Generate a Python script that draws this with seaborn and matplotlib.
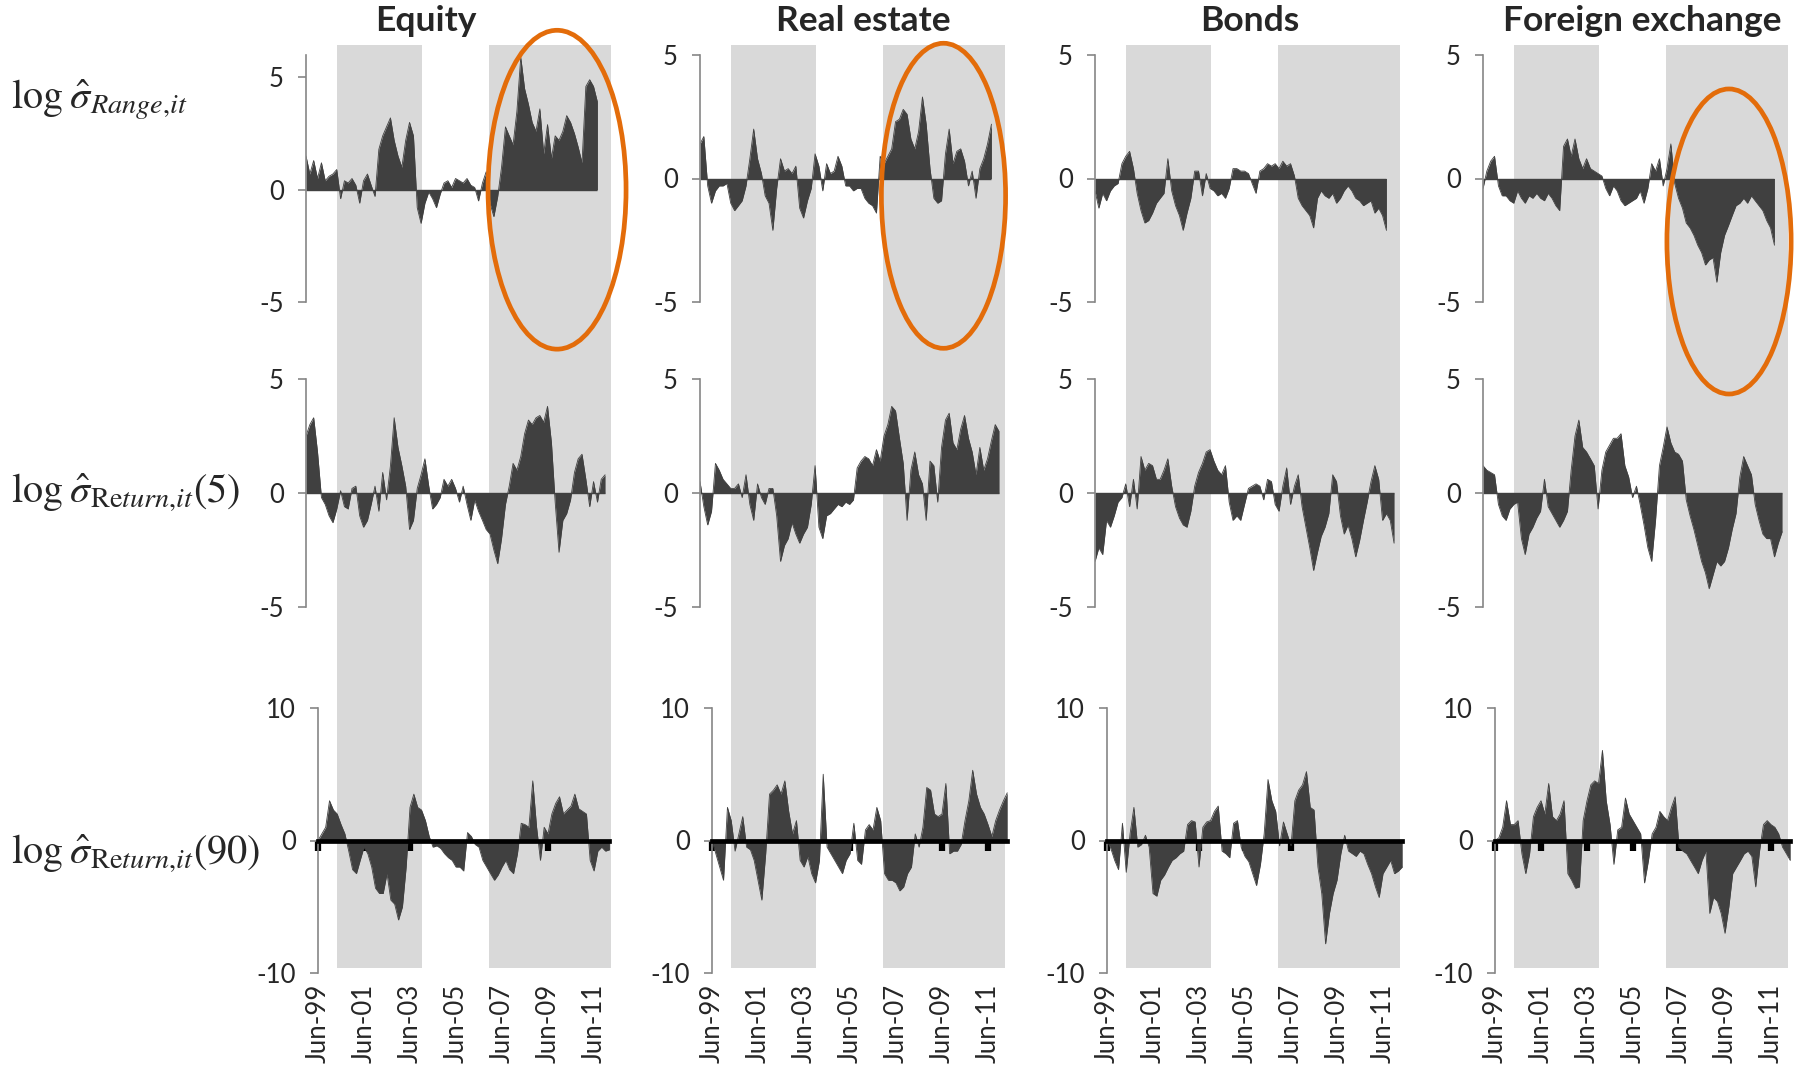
import numpy as np
import pandas as pd
import seaborn as sns
import matplotlib.pyplot as plt
from matplotlib.patches import Ellipse

# column titles and row labels
assets = ['Equity', 'Real estate', 'Bonds', 'Foreign exchange']
row_labels = [r'$\log\hspace{0.08}\hat{\sigma}_{Range{,}it}$',
              r'$\log\hspace{0.08}\hat{\sigma}_{\mathrm{Re}turn{,}it}(5)$',
              r'$\log\hspace{0.08}\hat{\sigma}_{\mathrm{Re}turn{,}it}(90)$']
tick_labels = ['Jun-99', 'Jun-01', 'Jun-03', 'Jun-05', 'Jun-07', 'Jun-09', 'Jun-11']
# shaded regimes
regimes = [('2000-04-01', '2003-12-01'), ('2006-11-01', '2012-03-01')]

equity_range = [1.5, 0.7, 1.3, 0.5, 1.2, 0.4, 0.6, 0.7, 0.9, -0.4,
                0.4, 0.3, 0.5, 0.2, -0.6, 0.4, 0.7, 0.2, -0.3, 1.8,
                2.4, 2.8, 3.2, 2.2, 1.5, 1.0, 2.2, 3.0, 2.4, -0.8,
                -1.5, -0.6, -0.1, -0.4, -0.8, -0.2, 0.3, 0.4, 0.1, 0.5,
                0.4, 0.3, 0.5, 0.2, 0.1, -0.5, 0.3, 0.8, -0.6, -1.2,
                -0.3, 1.0, 2.8, 2.4, 2.0, 3.5, 5.9, 4.5, 3.8, 3.0,
                2.6, 3.6, 1.6, 2.9, 1.4, 2.4, 2.2, 2.6, 3.3, 3.0,
                2.5, 1.9, 1.2, 4.6, 4.9, 4.6, 3.9]
estate_range = [1.4, 1.7, -0.3, -1.0, -0.5, -0.3, -0.3, -0.2, -1.0, -1.3,
                -1.1, -0.9, -0.3, 0.8, 2.0, 0.8, 0.2, -0.7, -1.0, -2.1,
                -0.4, 0.8, 0.3, 0.4, 0.2, 0.5, -1.2, -1.6, -0.9, -0.4,
                1.0, 0.5, -0.5, 0.6, 0.2, 0.3, 0.9, 0.5, -0.3, -0.3,
                -0.5, -0.4, -0.4, -0.8, -1.0, -1.1, -1.4, 0.9, 0.6, 0.9,
                1.2, 2.3, 2.4, 2.8, 2.6, 1.6, 1.2, 1.9, 3.3, 2.2,
                0.4, -0.8, -1.0, -0.9, 1.0, 2.0, 0.6, 1.1, 1.2, 0.7,
                -0.3, 0.3, -0.8, 0.4, 0.8, 1.4, 2.2]
bonds_range = [-0.5, -1.2, -0.6, -0.9, -0.5, -0.3, -0.2, 0.6, 0.9, 1.1,
               0.4, -0.6, -1.3, -1.8, -1.7, -1.4, -1.0, -0.8, -0.6, 0.8,
               -0.5, -1.1, -1.5, -2.1, -1.4, -0.8, 0.3, 0.3, -0.7, 0.2,
               -0.4, -0.5, -0.7, -0.6, -0.8, -0.4, 0.4, 0.4, 0.3, 0.3,
               0.2, -0.2, -0.6, 0.3, 0.4, 0.6, 0.5, 0.6, 0.4, 0.7,
               0.5, 0.6, 0.1, -0.8, -1.1, -1.3, -1.5, -2.0, -0.8, -0.5,
               -0.7, -0.8, -0.6, -1.0, -0.8, -0.5, -0.3, -0.5, -0.8, -0.9,
               -1.1, -1.0, -0.9, -1.4, -1.2, -1.5, -2.1]
fx_range = [-0.4, 0.3, 0.7, 0.9, -0.3, -0.7, -0.7, -0.9, -1.0, -0.5,
            -0.8, -1.0, -0.7, -0.8, -0.6, -0.8, -0.9, -0.6, -0.8, -1.1,
            -1.3, 1.3, 1.6, 0.9, 1.6, 0.8, 0.4, 0.8, 0.4, 0.3,
            0.2, 0.1, -0.4, -0.7, -0.3, -0.5, -0.9, -1.1, -1.0, -0.9,
            -0.8, -0.5, -1.0, -0.4, 0.6, 0.3, 0.8, -0.3, 0.4, 1.4,
            -0.2, -0.8, -1.2, -1.8, -2.0, -2.3, -2.7, -3.0, -3.5, -3.3,
            -3.2, -4.2, -3.0, -2.3, -1.9, -1.5, -1.1, -1.0, -0.8, -1.0,
            -0.7, -0.9, -1.1, -1.3, -1.7, -2.0, -2.7]

equity_ret5 = [2.5, 3.0, 3.3, 1.8, -0.2, -0.5, -1.0, -1.3, -0.7, 0.1,
               -0.6, -0.7, 0.2, 0.3, -1.0, -1.5, -1.2, -0.5, 0.3, -0.8,
               0.9, -0.3, 1.2, 3.3, 2.0, 1.2, 0.3, -1.6, -1.2, 0.2,
               0.8, 1.5, 0.3, -0.7, -0.5, -0.2, 0.6, 0.3, 0.6, 0.2,
               -0.4, 0.3, -0.5, -1.2, -0.3, -0.8, -1.2, -1.6, -1.8, -2.5,
               -3.1, -2.0, -0.5, 0.3, 1.3, 1.0, 1.6, 2.6, 3.2, 3.0,
               3.3, 3.4, 3.1, 3.8, 2.2, -0.4, -2.6, -1.2, -0.9, -0.3,
               0.9, 1.5, 1.7, 0.6, -0.6, 0.5, -0.4, 0.6, 0.8]
estate_ret5 = [0.5, -0.6, -1.4, -0.8, 1.3, 1.0, 0.6, 0.4, 0.2, 0.2,
               0.4, -0.2, 0.8, -0.5, -1.2, 0.4, -0.2, -0.5, 0.2, 0.2,
               -1.0, -3.0, -2.3, -2.0, -1.3, -1.8, -2.2, -1.8, -1.5, -0.5,
               1.2, -1.5, -2.0, -1.0, -0.9, -0.7, -0.5, -0.6, -0.4, -0.5,
               -0.3, 1.1, 1.4, 1.6, 1.5, 1.2, 1.9, 1.4, 2.5, 3.0,
               3.8, 3.6, 2.4, 1.3, -1.2, 1.0, 1.8, 0.8, 0.4, -1.2,
               1.4, 1.2, -0.4, 2.0, 3.2, 3.5, 2.2, 1.9, 2.8, 3.4,
               2.4, 1.8, 0.8, 2.0, 1.0, 1.5, 2.3, 3.0, 2.7]
bonds_ret5 = [-3.0, -2.4, -2.7, -1.2, -1.5, -1.0, -0.4, -0.2, 0.4, -0.6,
              0.6, -0.7, 1.6, 1.0, 1.3, 1.2, 0.6, 0.6, 1.0, 1.5,
              0.3, -0.6, -1.1, -1.4, -1.5, -0.8, 0.3, 0.9, 1.3, 1.8,
              1.9, 1.4, 1.0, 0.8, 1.2, -0.4, -1.2, -1.0, -1.2, -0.5,
              0.2, 0.3, 0.4, 0.3, -0.3, 0.6, 0.5, -0.5, -0.8, 0.3,
              1.1, -0.5, 0.3, 0.8, -0.6, -1.5, -2.4, -3.4, -2.6, -1.9,
              -1.5, -0.9, 0.8, 0.5, -1.0, -1.8, -1.4, -2.0, -2.8, -2.1,
              -1.2, -0.4, 0.5, 1.2, 0.6, -1.2, -0.9, -1.2, -2.2]
fx_ret5 = [1.2, 1.0, 0.9, 0.8, -0.5, -1.0, -1.2, -0.7, -0.5, -0.4,
           -2.0, -2.7, -1.8, -1.5, -1.1, -0.8, 0.6, -0.6, -0.9, -1.2,
           -1.5, -1.2, -0.8, 1.0, 2.5, 3.2, 2.0, 1.8, 1.5, 1.2,
           -0.7, 1.0, 1.8, 2.1, 2.4, 2.4, 2.6, 1.2, 0.7, -0.2,
           0.3, -0.5, -1.4, -2.4, -3.0, -1.2, 1.2, 2.0, 2.9, 2.2,
           1.8, 1.7, 1.4, -0.3, -1.0, -1.6, -2.3, -3.0, -3.5, -4.2,
           -3.6, -3.0, -3.2, -3.0, -2.4, -1.6, -0.9, 0.7, 1.6, 1.2,
           0.8, -0.5, -1.2, -1.8, -2.0, -2.0, -2.8, -2.2, -1.7]

equity_ret90 = [0.0, 0.5, 1.0, 3.0, 2.3, 2.0, 1.2, 0.5, -0.8, -2.2,
                -2.5, -1.5, -0.5, -1.0, -2.0, -3.6, -4.0, -4.0, -2.5, -4.5,
                -4.8, -6.0, -5.0, -2.0, 2.5, 3.5, 2.5, 2.3, 1.5, 0.3,
                -0.5, -0.4, -0.6, -1.0, -1.3, -1.5, -2.0, -2.0, -2.3, 0.6,
                0.3, -0.3, -0.5, -1.5, -2.0, -2.5, -3.0, -2.6, -2.0, -1.5,
                -2.2, -2.5, -1.0, 1.3, 1.2, 1.0, 4.5, 1.0, -1.5, 1.0,
                0.5, 2.0, 2.8, 3.3, 2.0, 2.3, 2.6, 3.5, 2.4, 2.2,
                2.0, -1.5, -2.3, -0.8, -0.5, -0.8, -0.7]
estate_ret90 = [0.0, -1.0, -2.0, -3.0, 2.5, 1.5, -0.8, 0.5, 1.8, -0.5,
                -0.7, -1.5, -3.0, -4.5, -1.0, 3.5, 3.8, 4.2, 3.5, 4.5,
                2.2, 0.5, 1.5, -1.5, -2.0, -1.2, -2.5, -3.2, -1.5, 5.0,
                -0.5, -1.0, -1.5, -2.0, -2.5, -1.5, -1.0, 1.3, -1.5, -1.8,
                0.8, 1.2, 0.8, 2.5, 1.5, -2.5, -3.0, -3.0, -3.2, -3.8,
                -3.5, -2.5, -2.0, 0.5, -0.5, 1.0, 4.0, 3.8, 2.0, 1.8,
                2.0, 4.3, -1.0, -0.8, -0.8, -0.3, 1.5, 3.0, 5.3, 3.5,
                2.5, 2.0, 1.2, 0.3, 1.5, 2.3, 3.0, 3.6]
bonds_ret90 = [0.0, -0.6, -1.5, -2.2, 1.3, -2.4, 0.5, 2.5, -0.5, -0.3,
               0.4, -0.5, -4.0, -4.2, -3.0, -2.6, -2.0, -1.5, -1.3, -1.0,
               -0.8, 1.2, 1.5, 1.4, -2.0, 1.0, 1.4, 1.5, 2.2, 2.6,
               -0.8, -1.0, -1.3, 1.3, 1.5, -0.5, -1.2, -1.6, -2.5, -3.4,
               -1.8, 0.5, 4.6, 3.0, 2.2, -0.4, 1.4, 0.5, -0.4, 3.0,
               3.8, 4.2, 5.2, 2.5, 2.3, -2.0, -4.0, -7.8, -5.5, -4.0,
               -3.0, -1.0, 0.4, -0.8, -1.0, -1.2, -0.8, -1.0, -1.8, -2.5,
               -3.5, -4.3, -2.5, -2.0, -1.5, -2.5, -2.3, -2.0]
fx_ret90 = [0.0, 0.2, 1.0, 3.0, 1.2, 1.2, 1.5, -1.0, -2.5, -1.0,
            1.8, 2.5, 3.0, 2.0, 4.3, 1.8, 1.5, 2.0, 3.0, -2.5,
            -3.0, -3.6, -3.5, 1.5, 3.0, 4.2, 4.5, 4.3, 6.8, 3.0,
            1.2, -1.8, 0.8, 1.0, 3.2, 2.0, 1.5, 1.0, 0.5, -3.2,
            -1.5, 0.5, 1.0, 2.2, 1.8, 1.5, 2.5, 3.3, -0.5, -0.8,
            -1.0, -1.5, -2.0, -2.5, -1.5, -0.8, -5.5, -4.3, -4.6, -5.5,
            -7.0, -5.0, -2.5, -2.0, -1.5, -1.0, -0.8, -1.2, -3.5, -0.8,
            1.2, 1.5, 1.2, 1.0, 0.5, -0.5, -1.0, -1.5]

rows = [[equity_range, estate_range, bonds_range, fx_range],
        [equity_ret5, estate_ret5, bonds_ret5, fx_ret5],
        [equity_ret90, estate_ret90, bonds_ret90, fx_ret90]]

# highlighted regions on the top row: (column, centre date, centre value, width in years, height)
highlights = [(0, '2010-05-01', 0.0, 6.0, 14.2),
              (1, '2010-01-01', -0.7, 5.4, 12.35),
              (3, '2010-02-10', -2.55, 5.4, 12.35)]

sns.set_style('white')
plt.rcParams['font.family'] = ['Lato', 'DejaVu Sans']
plt.rcParams['mathtext.fontset'] = 'stix'
plt.rcParams['axes.unicode_minus'] = False

FILL = '#404040'
BAND = '#D9D9D9'
SPINE = '#868686'
ORANGE = '#E36C0A'
W, H = 1806, 1066


def fyear(d):
    d = pd.Timestamp(d)
    return d.year + (d.dayofyear - 1) / 365.25


def rect(left, top, bottom, width):
    return [left / W, 1 - bottom / H, width / W, (bottom - top) / H]


x0 = fyear('1999-06-01')
xlim = (x0, x0 + 13.13)
tick_pos = [fyear(pd.to_datetime(t, format='%b-%y')) for t in tick_labels]

fig = plt.figure(figsize=(18.06, 10.66), dpi=100)

col_left = [306, 700, 1095, 1483]
ax_w = 302
row_box = [(55, 302), (379, 607), (708, 973)]
ylims = [(-5, 5), (-5, 5), (-10, 10)]

for c in range(4):
    # grey regime bands behind the three rows
    bg = fig.add_axes(rect(col_left[c] + 12, 45, 968, ax_w), zorder=0)
    bg.set_xlim(xlim)
    bg.axis('off')
    for a, b in regimes:
        bg.axvspan(fyear(a), fyear(b), color=BAND, lw=0)

    for r in range(3):
        vals = np.array(rows[r][c])
        x = np.array([fyear(d) for d in pd.date_range('1999-06-01', periods=len(vals), freq='2MS')])
        left = col_left[c] + (12 if r == 2 else 0)
        ax = fig.add_axes(rect(left, row_box[r][0], row_box[r][1], ax_w), zorder=3 if r == 0 else 2)
        ax.set_facecolor('none')
        sns.lineplot(x=x, y=vals, ax=ax, color=FILL, linewidth=0.6)
        ax.fill_between(x, 0, vals, color=FILL, linewidth=0)

        lo, hi = ylims[r]
        if r == 0 and c == 0:
            hi = 6
        ax.set_xlim(xlim)
        ax.set_ylim(lo, hi)
        step = 10 if r == 2 else 5
        ax.set_yticks([-step, 0, step])
        ax.set_yticklabels([str(-step), '0', str(step)])
        ax.set_ylabel('')
        for s in ['top', 'right']:
            ax.spines[s].set_visible(False)
        ax.spines['left'].set_color(SPINE)
        ax.spines['left'].set_linewidth(1.2)
        ax.spines['left'].set_bounds(lo, hi)
        ax.tick_params(axis='y', direction='out', length=6, width=1.2, color=SPINE,
                       pad=10, labelsize=18.5, left=True)

        if r < 2:
            ax.spines['bottom'].set_visible(False)
            ax.set_xticks([])
            ax.hlines(0, x[0], x[-1], color=FILL, lw=1.0)
        else:
            ax.spines['bottom'].set_position(('data', 0))
            ax.spines['bottom'].set_color('black')
            ax.spines['bottom'].set_linewidth(3.4)
            ax.spines['bottom'].set_bounds(x[0], x[-1])
            ax.set_xticks(tick_pos)
            ax.tick_params(axis='x', direction='out', length=7, width=4.5, color='black',
                           labelbottom=False, bottom=True)
            sec = ax.secondary_xaxis('bottom')
            sec.set_xticks(tick_pos, labels=tick_labels)
            sec.tick_params(length=0, pad=8, labelrotation=90, labelsize=18.5)
            sec.spines['bottom'].set_visible(False)

        if r == 0:
            for hc, hd, hv, hw, hh in highlights:
                if hc == c:
                    ax.add_patch(Ellipse((fyear(hd), hv), hw, hh, fill=False, edgecolor=ORANGE,
                                         lw=3.4, clip_on=False, zorder=10))

title_x = [426, 863, 1250, 1642]
for name, tx in zip(assets, title_x):
    fig.text(tx / W, 1 - 31 / H, name, ha='center', va='baseline', fontsize=25.5, fontweight='bold')

for lab, base in zip(row_labels, [109, 503, 864]):
    fig.text(11 / W, 1 - base / H, lab, ha='left', va='baseline', fontsize=29)

fig.savefig('out.png', dpi=100)
